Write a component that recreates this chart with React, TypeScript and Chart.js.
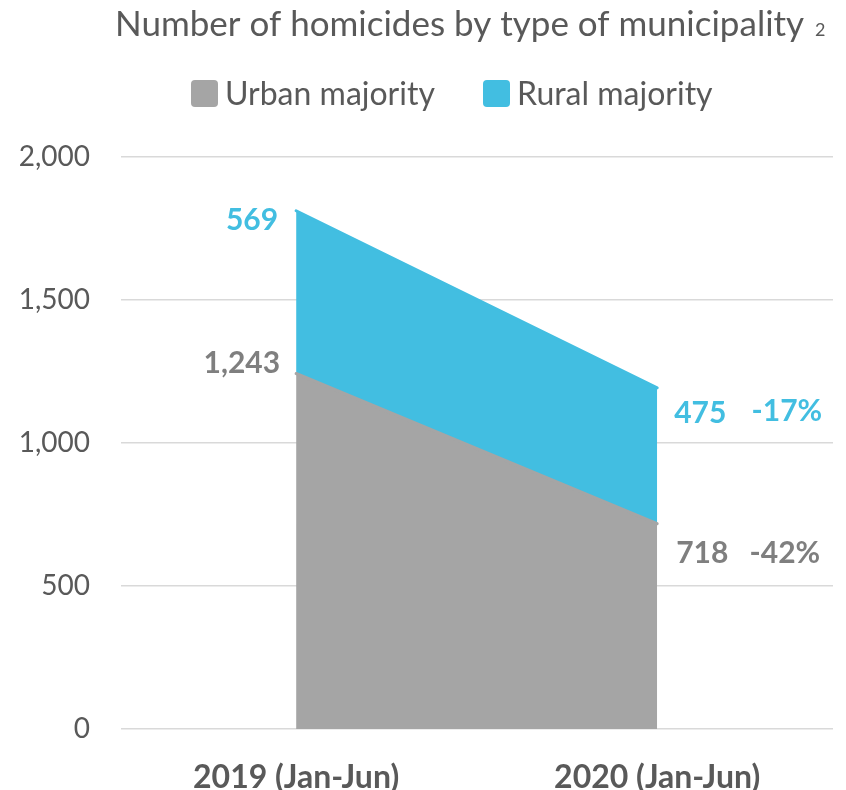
import React, { useEffect, useRef } from 'react';
import { Chart, registerables } from 'chart.js';

Chart.register(...registerables);

const categories = ['2019 (Jan-Jun)', '2020 (Jan-Jun)'];
const seriesNames = ['Urban majority', 'Rural majority'];
const urbanValues = [1243, 718];
const ruralValues = [569, 475];
const urbanChange = '-42%';
const ruralChange = '-17%';
const yTickValues = [0, 500, 1000, 1500, 2000];
const titleText = 'Number of homicides by type of municipality';
const titleNote = '2';

const GRAY = '#A5A5A5';
const CYAN = '#42BEE1';
const TEXT = '#595959';
const LABEL_GRAY = '#7F7F7F';
const FONT = 'Lato, "Open Sans", sans-serif';

const overlay = {
  id: 'overlay',
  afterDraw(chart: any) {
    const ctx = chart.ctx;
    ctx.save();
    // Title
    ctx.fillStyle = TEXT;
    ctx.textBaseline = 'alphabetic';
    ctx.textAlign = 'left';
    ctx.font = `35px ${FONT}`;
    ctx.fillText(titleText, 107, 28);
    ctx.font = `18px ${FONT}`;
    ctx.fillText(titleNote, 807, 28);

    // Legend
    const legendItems = [
      { color: GRAY, text: seriesNames[0], bx: 183, tx: 217 },
      { color: CYAN, text: seriesNames[1], bx: 475, tx: 509 },
    ];
    ctx.font = `32px ${FONT}`;
    for (const it of legendItems) {
      ctx.fillStyle = it.color;
      ctx.beginPath();
      (ctx as any).roundRect(it.bx, 72, 27, 27, 4);
      ctx.fill();
      ctx.fillStyle = TEXT;
      ctx.fillText(it.text, it.tx, 97);
    }

    // Data labels
    const m0 = chart.getDatasetMeta(0).data;
    const m1 = chart.getDatasetMeta(1).data;
    ctx.font = `bold 30px ${FONT}`;
    ctx.textBaseline = 'middle';
    const put = (text: string, x: number, y: number, align: CanvasTextAlign, color: string) => {
      ctx.fillStyle = color;
      ctx.textAlign = align;
      ctx.fillText(text, x, y);
    };
    put(ruralValues[0].toLocaleString('en-US'), m1[0].x - 18, m1[0].y + 10, 'right', CYAN);
    put(urbanValues[0].toLocaleString('en-US'), m0[0].x - 16, m0[0].y - 10, 'right', LABEL_GRAY);
    put(ruralValues[1].toLocaleString('en-US'), m1[1].x + 17, m1[1].y + 26, 'left', CYAN);
    put(urbanValues[1].toLocaleString('en-US'), m0[1].x + 19, m0[1].y + 30, 'left', LABEL_GRAY);
    put(ruralChange, m1[1].x + 165, m1[1].y + 24, 'right', CYAN);
    put(urbanChange, m0[1].x + 163, m0[1].y + 30, 'right', LABEL_GRAY);
    ctx.restore();
  },
};

export default function App() {
  const ref = useRef<HTMLCanvasElement>(null);
  useEffect(() => {
    if (!ref.current) return;
    const chart = new Chart(ref.current, {
      type: 'line',
      data: {
        datasets: [
          {
            label: seriesNames[0],
            data: urbanValues.map((v, i) => ({ x: i, y: v })),
            backgroundColor: GRAY,
            borderColor: GRAY,
            borderWidth: 3,
            borderCapStyle: 'round',
            borderJoinStyle: 'round',
            fill: 'origin',
            pointRadius: 0,
            tension: 0,
          },
          {
            label: seriesNames[1],
            data: ruralValues.map((v, i) => ({ x: i, y: v })),
            backgroundColor: CYAN,
            borderColor: CYAN,
            borderWidth: 3,
            borderCapStyle: 'round',
            borderJoinStyle: 'round',
            fill: '-1',
            pointRadius: 0,
            tension: 0,
          },
        ],
      },
      options: {
        animation: false,
        responsive: false,
        layout: { padding: { top: 149, right: 5, left: 0, bottom: 0 } },
        plugins: {
          legend: { display: false },
          title: { display: false },
          tooltip: { enabled: false },
        },
        scales: {
          x: {
            type: 'linear',
            min: -0.485,
            max: 1.487,
            grid: { display: false },
            border: { display: false },
            afterBuildTicks: (s: any) => {
              s.ticks = categories.map((_, i) => ({ value: i }));
            },
            afterFit: (s: any) => {
              s.height = 61;
            },
            ticks: {
              autoSkip: false,
              maxRotation: 0,
              padding: 21,
              color: TEXT,
              font: { family: FONT, size: 32, weight: 'bold' },
              callback: (v: any) => categories[v] ?? '',
            },
          },
          y: {
            stacked: true,
            min: 0,
            max: 2000,
            afterBuildTicks: (s: any) => {
              s.ticks = yTickValues.map((v) => ({ value: v }));
            },
            afterFit: (s: any) => {
              s.width = 113;
            },
            grid: { color: '#D9D9D9', lineWidth: 1.5, drawTicks: false },
            border: { display: false },
            ticks: {
              padding: 31,
              color: TEXT,
              font: { family: FONT, size: 28 },
              callback: (v: any) => Number(v).toLocaleString('en-US'),
            },
          },
        },
      },
      plugins: [overlay],
    } as any);
    return () => chart.destroy();
  }, []);
  return (
    <div style={{ position: 'fixed', left: 8, top: 8, width: 830, height: 782 }}>
      <canvas ref={ref} width={830} height={782} />
    </div>
  );
}
